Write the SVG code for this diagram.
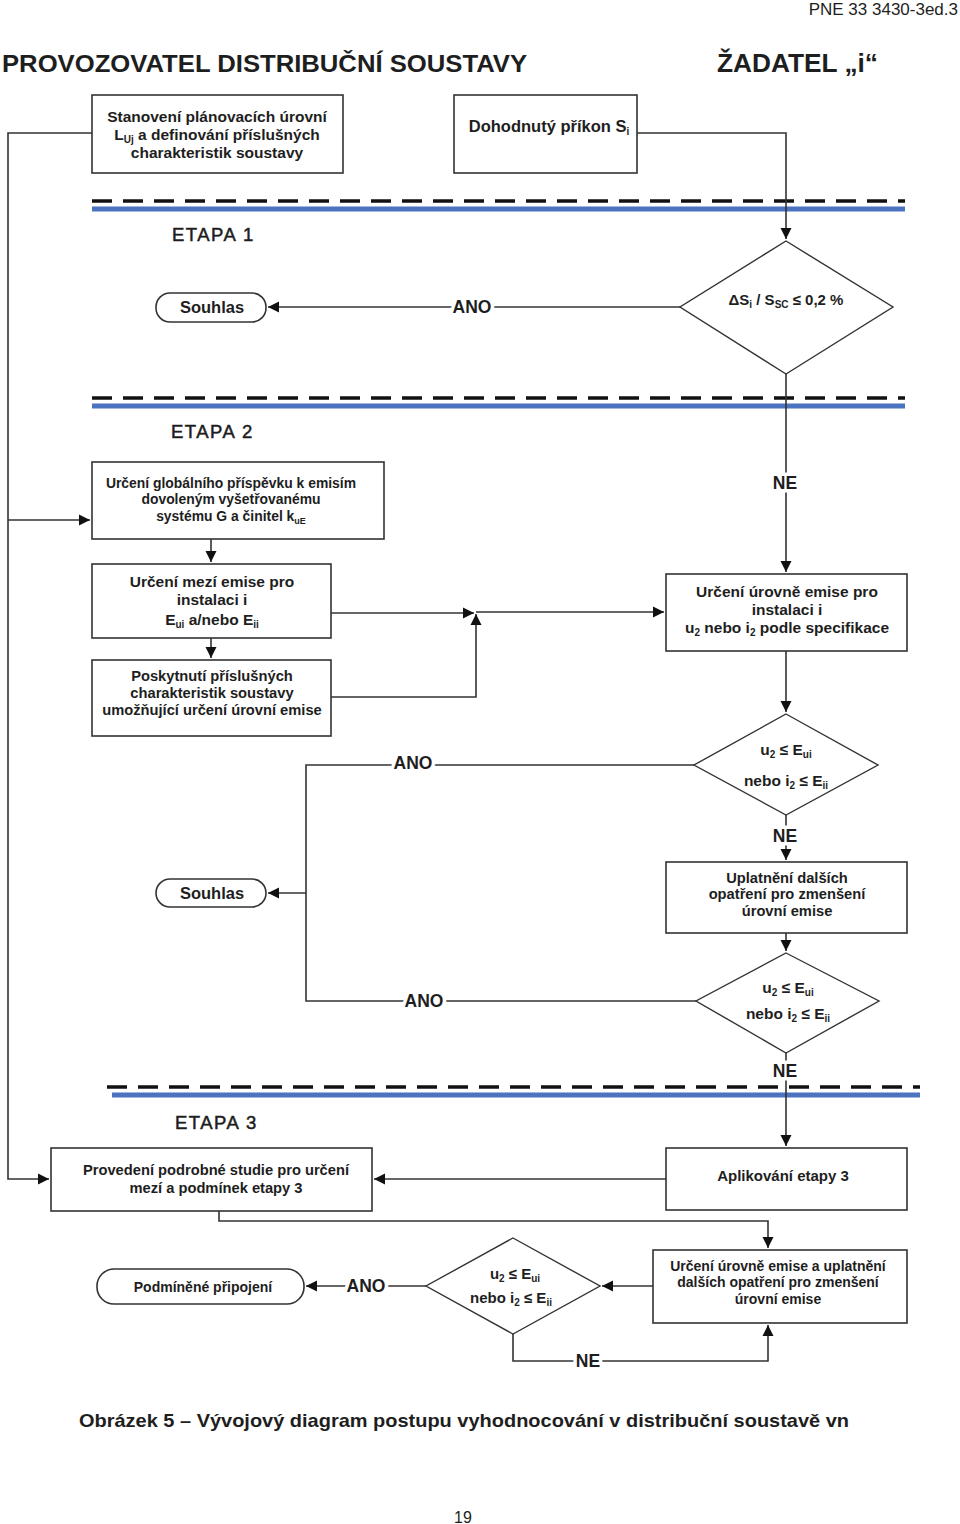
<svg xmlns="http://www.w3.org/2000/svg" width="960" height="1524" viewBox="0 0 960 1524">
<defs>
<marker id="ah" markerUnits="userSpaceOnUse" markerWidth="12" markerHeight="12" refX="11" refY="6" orient="auto">
<path d="M0,0.5 L11,6 L0,11.5 z" fill="#111"/>
</marker>
<style>
text{font-family:"Liberation Sans",Arial,sans-serif;fill:#1e1e1e}
.b{font-weight:bold}
.box{fill:#fff;stroke:#333;stroke-width:1.6}
.dia{fill:#fff;stroke:#333;stroke-width:1.4}
.ln{fill:none;stroke:#333;stroke-width:1.6}
.arr{marker-end:url(#ah)}
.t{font-weight:bold;text-anchor:middle}
.lab{font-size:17.5px;font-weight:bold;text-anchor:middle;stroke:#fff;stroke-width:7px;paint-order:stroke;stroke-linejoin:round}
.dash{stroke:#111;stroke-width:3.5;stroke-dasharray:20 11}
.blue{stroke:#4b73c0;stroke-width:5}
.et{font-size:18.5px;letter-spacing:1.5px;stroke:#1e1e1e;stroke-width:0.5px}
.s{font-size:10px}
</style>
</defs>
<rect width="960" height="1524" fill="#fff"/>

<text x="958" y="15" font-size="17" text-anchor="end">PNE 33 3430-3ed.3</text>
<text x="2" y="72" class="b" font-size="24" textLength="525" lengthAdjust="spacingAndGlyphs">PROVOZOVATEL DISTRIBUČNÍ SOUSTAVY</text>
<text x="717" y="72" class="b" font-size="26" textLength="161" lengthAdjust="spacingAndGlyphs">ŽADATEL „i“</text>

<g id="separators">
<line x1="92" y1="201" x2="905" y2="201" class="dash"/>
<line x1="92" y1="209" x2="905" y2="209" class="blue"/>
<line x1="92" y1="398" x2="905" y2="398" class="dash"/>
<line x1="92" y1="406" x2="905" y2="406" class="blue"/>
<line x1="107" y1="1087" x2="920" y2="1087" class="dash"/>
<line x1="112" y1="1095" x2="920" y2="1095" class="blue"/>
</g>
<text x="172" y="241" class="et">ETAPA 1</text>
<text x="171" y="438" class="et">ETAPA 2</text>
<text x="175" y="1129" class="et">ETAPA 3</text>

<g id="connectors">
<path class="ln" d="M92,133 H8 V1179 H49" marker-end="url(#ah)"/>
<path class="ln arr" d="M8,520 H90"/>
<path class="ln arr" d="M637,133 H786 V239"/>
<path class="ln arr" d="M680,307 H268"/>
<path class="ln arr" d="M786,374 V572"/>
<path class="ln arr" d="M211,539 V562"/>
<path class="ln arr" d="M211,638 V658"/>
<path class="ln arr" d="M331,613 H474"/>
<path class="ln arr" d="M331,697 H476 V614"/>
<path class="ln arr" d="M476,612 H664"/>
<path class="ln arr" d="M786,651 V712"/>
<path class="ln" d="M694,765 H306 V1001 H696"/>
<path class="ln arr" d="M306,893 H268"/>
<path class="ln arr" d="M786,815 V860"/>
<path class="ln arr" d="M786,933 V951"/>
<path class="ln arr" d="M786,1053 V1146"/>
<path class="ln arr" d="M666,1179 H374"/>
<path class="ln arr" d="M219,1211 V1221 H768 V1248"/>
<path class="ln arr" d="M653,1286 H602"/>
<path class="ln arr" d="M426,1286 H306"/>
<path class="ln arr" d="M513,1334 V1361 H768 V1325"/>
<text x="472" y="313" class="lab">ANO</text>
<text x="785" y="489" class="lab">NE</text>
<text x="413" y="769" class="lab">ANO</text>
<text x="785" y="842" class="lab">NE</text>
<text x="424" y="1007" class="lab">ANO</text>
<text x="785" y="1077" class="lab">NE</text>
<text x="366" y="1292" class="lab">ANO</text>
<text x="588" y="1367" class="lab">NE</text>
</g>

<g id="n1" style="font-size:15.5px">
<rect x="92" y="95" width="251" height="78" class="box"/>
<text x="217" y="122" class="t">Stanovení plánovacích úrovní</text>
<text x="217" y="140" class="t">L<tspan class="s" dy="3">Uj</tspan><tspan dy="-3"> a definování příslušných</tspan></text>
<text x="217" y="158" class="t">charakteristik soustavy</text>
</g>
<g id="n2" style="font-size:16.5px">
<rect x="454" y="95" width="183" height="78" class="box"/>
<text x="549" y="132" class="t">Dohodnutý příkon S<tspan class="s" dy="3">i</tspan></text>
</g>
<g id="d1" style="font-size:15px">
<polygon points="786,241 893,307 786,374 680,307" class="dia"/>
<text x="786" y="305" class="t">ΔS<tspan class="s" dy="3">i</tspan><tspan dy="-3"> / S</tspan><tspan class="s" dy="3">SC</tspan><tspan dy="-3"> ≤ 0,2 %</tspan></text>
</g>
<g id="souhlas1" style="font-size:16.5px">
<rect x="156" y="293" width="110" height="29" rx="14" class="box"/>
<text x="212" y="313" class="t">Souhlas</text>
</g>
<g id="n3" style="font-size:13.9px">
<rect x="92" y="462" width="292" height="77" class="box"/>
<text x="231" y="488" class="t">Určení globálního příspěvku k emisím</text>
<text x="231" y="504" class="t">dovoleným vyšetřovanému</text>
<text x="231" y="521" class="t">systému G a činitel k<tspan class="s" style="font-size:9px" dy="3">uE</tspan></text>
</g>
<g id="n4" style="font-size:15.5px">
<rect x="92" y="564" width="239" height="74" class="box"/>
<text x="212" y="587" class="t">Určení mezí emise pro</text>
<text x="212" y="605" class="t">instalaci i</text>
<text x="212" y="625" class="t">E<tspan class="s" dy="3">ui</tspan><tspan dy="-3"> a/nebo E</tspan><tspan class="s" dy="3">ii</tspan></text>
</g>
<g id="n5" style="font-size:14.7px">
<rect x="92" y="660" width="239" height="76" class="box"/>
<text x="212" y="681" class="t">Poskytnutí příslušných</text>
<text x="212" y="698" class="t">charakteristik soustavy</text>
<text x="212" y="715" class="t">umožňující určení úrovní emise</text>
</g>
<g id="n6" style="font-size:15.5px">
<rect x="666" y="574" width="241" height="77" class="box"/>
<text x="787" y="597" class="t">Určení úrovně emise pro</text>
<text x="787" y="615" class="t">instalaci i</text>
<text x="787" y="633" class="t">u<tspan class="s" dy="3">2</tspan><tspan dy="-3"> nebo i</tspan><tspan class="s" dy="3">2</tspan><tspan dy="-3"> podle specifikace</tspan></text>
</g>
<g id="d2" style="font-size:15.5px">
<polygon points="786,714 878,765 786,815 694,765" class="dia"/>
<text x="786" y="755" class="t">u<tspan class="s" dy="3">2</tspan><tspan dy="-3"> ≤ E</tspan><tspan class="s" dy="3">ui</tspan></text>
<text x="786" y="786" class="t">nebo i<tspan class="s" dy="3">2</tspan><tspan dy="-3"> ≤ E</tspan><tspan class="s" dy="3">ii</tspan></text>
</g>
<g id="souhlas2" style="font-size:16.5px">
<rect x="156" y="879" width="110" height="28" rx="14" class="box"/>
<text x="212" y="899" class="t">Souhlas</text>
</g>
<g id="n7" style="font-size:14.7px">
<rect x="666" y="862" width="241" height="71" class="box"/>
<text x="787" y="883" class="t">Uplatnění dalších</text>
<text x="787" y="899" class="t">opatření pro zmenšení</text>
<text x="787" y="916" class="t">úrovní emise</text>
</g>
<g id="d3" style="font-size:15.5px">
<polygon points="786,953 879,1001 786,1053 696,1001" class="dia"/>
<text x="788" y="993" class="t">u<tspan class="s" dy="3">2</tspan><tspan dy="-3"> ≤ E</tspan><tspan class="s" dy="3">ui</tspan></text>
<text x="788" y="1019" class="t">nebo i<tspan class="s" dy="3">2</tspan><tspan dy="-3"> ≤ E</tspan><tspan class="s" dy="3">ii</tspan></text>
</g>
<g id="n8" style="font-size:14.7px">
<rect x="51" y="1148" width="321" height="63" class="box"/>
<text x="216" y="1175" class="t">Provedení podrobné studie pro určení</text>
<text x="216" y="1193" class="t">mezí a podmínek etapy 3</text>
</g>
<g id="n9" style="font-size:15px">
<rect x="666" y="1148" width="241" height="62" class="box"/>
<text x="783" y="1181" class="t">Aplikování etapy 3</text>
</g>
<g id="n10" style="font-size:14px">
<rect x="653" y="1250" width="254" height="73" class="box"/>
<text x="778" y="1271" class="t">Určení úrovně emise a uplatnění</text>
<text x="778" y="1287" class="t">dalších opatření pro zmenšení</text>
<text x="778" y="1304" class="t">úrovní emise</text>
</g>
<g id="d4" style="font-size:15px">
<polygon points="513,1238 600,1286 513,1334 426,1286" class="dia"/>
<text x="515" y="1279" class="t">u<tspan class="s" dy="3">2</tspan><tspan dy="-3"> ≤ E</tspan><tspan class="s" dy="3">ui</tspan></text>
<text x="511" y="1303" class="t">nebo i<tspan class="s" dy="3">2</tspan><tspan dy="-3"> ≤ E</tspan><tspan class="s" dy="3">ii</tspan></text>
</g>
<g id="podminene" style="font-size:14px">
<rect x="97" y="1269" width="207" height="35" rx="17" class="box"/>
<text x="203" y="1292" class="t">Podmíněné připojení</text>
</g>

<text x="79" y="1427" class="b" font-size="19" textLength="770" lengthAdjust="spacingAndGlyphs">Obrázek 5 – Vývojový diagram postupu vyhodnocování v distribuční soustavě vn</text>
<text x="463" y="1523" font-size="16" text-anchor="middle">19</text>
</svg>
